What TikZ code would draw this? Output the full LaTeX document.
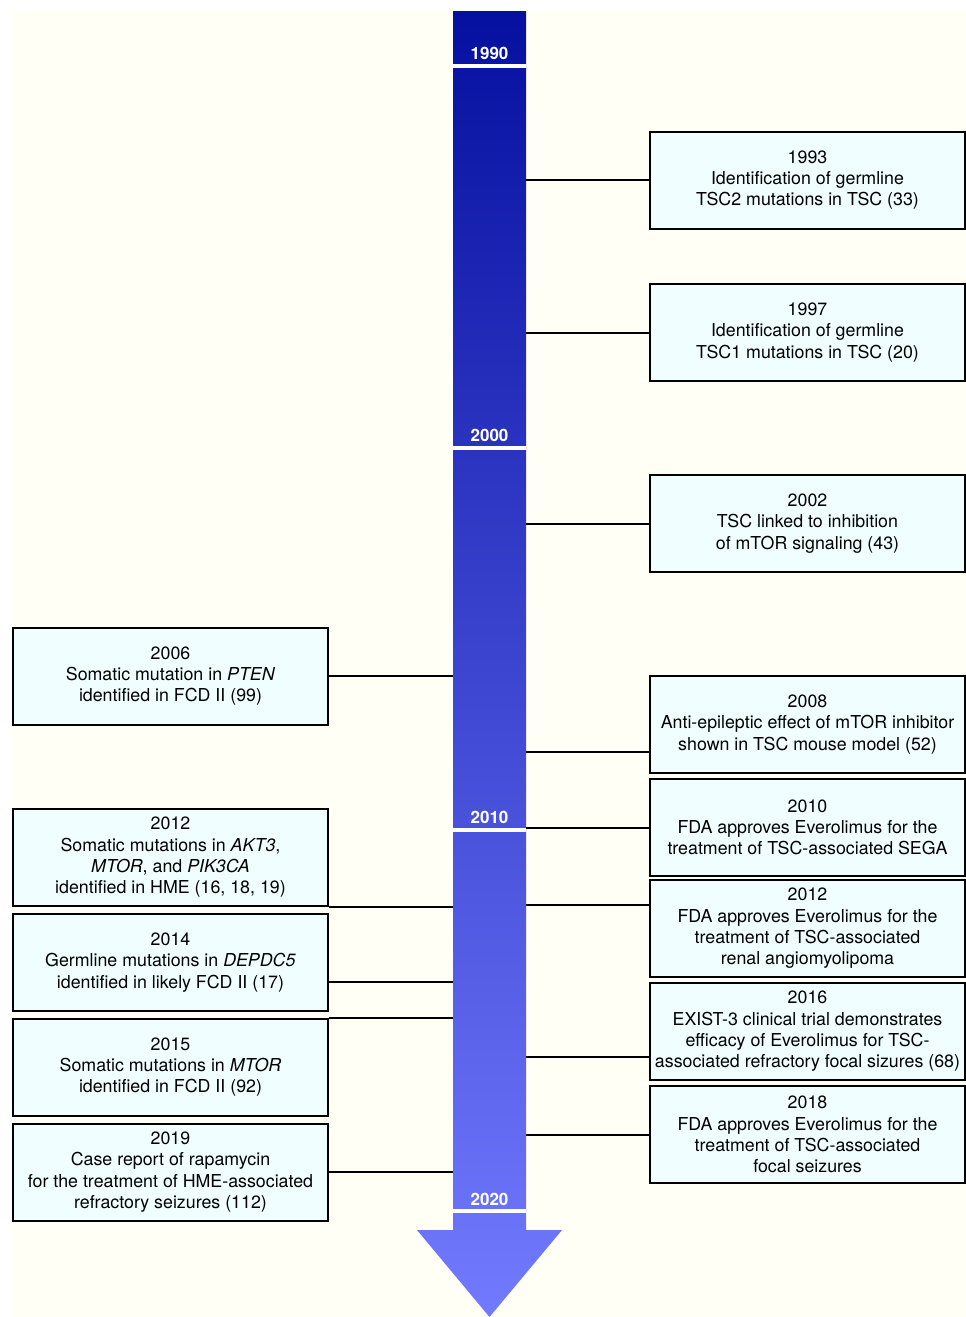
\documentclass[tikz,border=0pt]{standalone}
\usepackage{fontspec}
\setmainfont{TeX Gyre Heros}
\definecolor{cream}{RGB}{255,255,246}
\definecolor{boxfill}{RGB}{240,254,255}
\definecolor{bartop}{RGB}{6,16,160}
\definecolor{barbot}{RGB}{114,122,255}

\begin{document}
\begin{tikzpicture}[x=1pt,y=-1pt,
  event/.style={draw=black,line width=2pt,fill=boxfill,minimum width=315pt,minimum height=97pt,
    align=center,inner sep=0pt,font=\fontsize{17.8}{21.3}\selectfont},
  year/.style={anchor=base,text=white,font=\fontsize{17}{20}\selectfont\bfseries},
  link/.style={line width=2pt}]
  \useasboundingbox (0,0) rectangle (966,1317);
  \fill[cream] (13,10) rectangle (966,1317);

  % timeline bar with arrow head
  \shade[top color=bartop,bottom color=barbot] (453,11) -- (526,11) -- (526,1230) -- (562,1230)
   -- (489.5,1317) -- (417,1230) -- (453,1230) -- cycle;
  \node (bar) at (489.5,620.5) [minimum width=73pt,minimum height=1219pt,inner sep=0pt] {};
  \fill[white] (453,64) rectangle (526,68);
  \fill[white] (453,446) rectangle (526,450);
  \fill[white] (453,828) rectangle (526,832);
  \fill[white] (453,1209) rectangle (526,1213);
  \node[year] (y1990) at (489.5,59) {1990};
  \node[year] (y2000) at (489.5,441) {2000};
  \node[year] (y2010) at (489.5,823) {2010};
  \node[year] (y2020) at (489.5,1205) {2020};

  % right side
  \node[event] (r1993) at (807.5,180) {1993\\Identification of germline\\TSC2 mutations in TSC (33)};
  \node[event] (r1997) at (807.5,332.5) {1997\\Identification of germline\\TSC1 mutations in TSC (20)};
  \node[event] (r2002) at (807.5,523.5) {2002\\TSC linked to inhibition\\of mTOR signaling (43)};
  \node[event] (r2008) at (807.5,724.5) {2008\\Anti-epileptic effect of mTOR inhibitor\\shown in TSC mouse model (52)};
  \node[event] (r2010) at (807.5,827.5) {2010\\FDA approves Everolimus for the\\treatment of TSC-associated SEGA};
  \node[event] (r2012) at (807.5,928.5) {2012\\FDA approves Everolimus for the\\treatment of TSC-associated\\renal angiomyolipoma};
  \node[event] (r2016) at (807.5,1031.5) {2016\\EXIST-3 clinical trial demonstrates\\efficacy of Everolimus for TSC-\\associated refractory focal sizures (68)};
  \node[event] (r2018) at (807.5,1134.5) {2018\\FDA approves Everolimus for the\\treatment of TSC-associated\\focal seizures};

  % left side
  \node[event] (l2006) at (170.5,676) {2006\\Somatic mutation in \textit{PTEN}\\identified in FCD II (99)};
  \node[event] (l2012) at (170.5,857.5) {2012\\Somatic mutations in \textit{AKT3},\\\textit{MTOR}, and \textit{PIK3CA}\\identified in HME (16, 18, 19)};
  \node[event] (l2014) at (170.5,962.5) {2014\\Germline mutations in \textit{DEPDC5}\\identified in likely FCD II (17)};
  \node[event] (l2015) at (170.5,1067) {2015\\Somatic mutations in \textit{MTOR}\\identified in FCD II (92)};
  \node[event] (l2019) at (170.5,1172) {2019\\Case report of rapamycin\\for the treatment of HME-associated\\refractory seizures (112)};

  \draw[link] (r1993.west) -- (r1993.west -| bar.east);
  \draw[link] (r1997.west) -- (r1997.west -| bar.east);
  \draw[link] (r2002.west) -- (r2002.west -| bar.east);
  \draw[link] ([yshift=-27.5pt]r2008.west) -- ([yshift=-27.5pt]r2008.west -| bar.east);
  \draw[link] (r2010.west) -- (r2010.west -| bar.east);
  \draw[link] ([yshift=23.5pt]r2012.west) -- ([yshift=23.5pt]r2012.west -| bar.east);
  \draw[link] ([yshift=-25.5pt]r2016.west) -- ([yshift=-25.5pt]r2016.west -| bar.east);
  \draw[link] (r2018.west) -- (r2018.west -| bar.east);

  \draw[link] (l2006.east) -- (l2006.east -| bar.west);
  \draw[link] (l2012.south east) -- (l2012.south east -| bar.west);
  \draw[link] ([yshift=-19.5pt]l2014.east) -- ([yshift=-19.5pt]l2014.east -| bar.west);
  \draw[link] (l2015.north east) -- (l2015.north east -| bar.west);
  \draw[link] (l2019.east) -- (l2019.east -| bar.west);
\end{tikzpicture}
\end{document}
